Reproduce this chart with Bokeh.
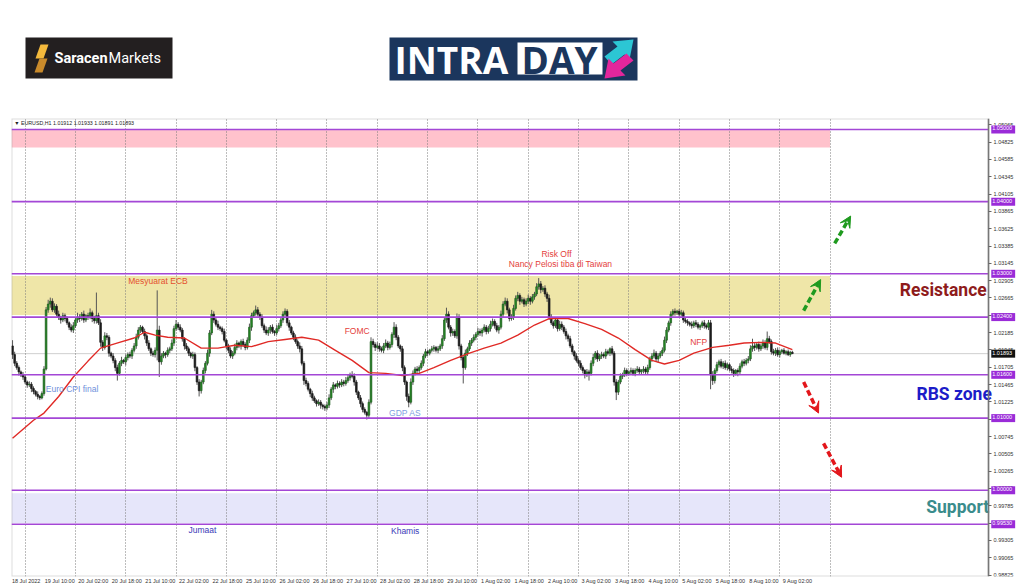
import numpy as np
from bokeh.plotting import figure
from bokeh.layouts import column
from bokeh.models import (Range1d, FixedTicker, Label, Arrow, VeeHead, BoxAnnotation,
                          ColumnDataSource, PrintfTickFormatter)
from bokeh.core.properties import value
from bokeh.embed import file_html
from bokeh.resources import INLINE

# ---------------- data (EURUSD H1, prices in pips above 1.0000) ----------------
first_bar_time = "18 Jul 2022 18:00"
first_open_pips = 200
close_pips = [
    188, 176, 170, 164, 160, 157, 150, 146, 147, 141,
    137, 133, 130, 128, 134, 168, 250, 258, 262, 250,
    255, 244, 240, 236, 242, 238, 232, 226, 222, 228,
    236, 240, 238, 244, 236, 242, 240, 246, 238, 235,
    242, 232, 205, 198, 214, 212, 190, 186, 180, 170,
    162, 176, 180, 178, 184, 188, 186, 194, 200, 212,
    222, 226, 220, 214, 204, 196, 190, 188, 194, 222,
    178, 186, 190, 188, 194, 196, 204, 224, 230, 226,
    222, 210, 200, 196, 190, 186, 188, 170, 150, 138,
    150, 166, 176, 190, 218, 244, 236, 230, 226, 224,
    220, 208, 200, 194, 186, 190, 198, 204, 200, 206,
    202, 198, 208, 226, 242, 246, 250, 244, 240, 228,
    222, 218, 222, 226, 220, 218, 224, 228, 236, 244,
    248, 232, 226, 218, 212, 206, 200, 196, 176, 152,
    148, 140, 134, 128, 124, 120, 122, 118, 116, 114,
    118, 128, 140, 146, 144, 148, 146, 150, 148, 152,
    156, 160, 158, 150, 136, 128, 120, 112, 108, 104,
    122, 206, 202, 198, 200, 196, 194, 200, 204, 198,
    202, 216, 226, 212, 200, 196, 170, 150, 130, 122,
    150, 162, 168, 166, 170, 176, 186, 192, 190, 194,
    196, 198, 194, 196, 200, 210, 236, 244, 226, 218,
    220, 214, 240, 200, 184, 170, 190, 196, 204, 208,
    212, 216, 220, 218, 222, 226, 220, 224, 230, 234,
    228, 222, 226, 244, 258, 262, 250, 238, 240, 252,
    266, 270, 262, 264, 258, 262, 266, 262, 268, 272,
    282, 286, 278, 280, 272, 266, 240, 232, 228, 236,
    224, 230, 226, 220, 214, 210, 200, 192, 186, 180,
    176, 170, 166, 160, 164, 162, 176, 184, 190, 182,
    186, 188, 186, 192, 190, 196, 190, 150, 136, 150,
    158, 160, 166, 162, 164, 166, 162, 166, 168, 164,
    166, 168, 164, 170, 182, 186, 190, 182, 186, 190,
    194, 208, 222, 232, 244, 248, 246, 248, 244, 246,
    236, 234, 232, 230, 228, 232, 230, 226, 228, 232,
    228, 226, 232, 160, 152, 166, 174, 178, 172, 176,
    170, 174, 168, 166, 162, 166, 164, 172, 178, 176,
    180, 182, 196, 200, 198, 202, 196, 200, 204, 198,
    210, 206, 192, 190, 194, 188, 192, 194, 190, 192,
    188, 191.2, 189.3,
]
upper_wick_pips = [
    8, 4, 3, 3, 2, 4, 3, 2, 4, 3,
    3, 2, 4, 2, 3, 4, 4, 6, 5, 4,
    4, 3, 5, 2, 4, 3, 3, 2, 4, 5,
    3, 6, 4, 3, 5, 2, 4, 6, 3, 4,
    32, 4, 5, 3, 5, 4, 3, 2, 4, 3,
    4, 3, 5, 2, 4, 3, 4, 3, 4, 5,
    4, 3, 2, 4, 3, 4, 2, 3, 4, 55,
    6, 4, 3, 2, 4, 3, 5, 4, 6, 3,
    4, 3, 2, 4, 3, 2, 4, 3, 2, 4,
    3, 4, 3, 5, 4, 6, 4, 3, 5, 2,
    3, 4, 2, 3, 4, 3, 5, 4, 2, 3,
    4, 3, 4, 5, 4, 3, 6, 4, 3, 4,
    3, 5, 4, 3, 4, 2, 5, 4, 3, 4,
    4, 3, 4, 2, 3, 4, 3, 5, 4, 3,
    4, 3, 2, 4, 3, 2, 4, 3, 2, 3,
    4, 5, 3, 4, 2, 4, 3, 4, 3, 5,
    4, 3, 5, 4, 3, 2, 4, 3, 3, 2,
    4, 6, 4, 3, 5, 4, 3, 4, 5, 3,
    4, 3, 7, 4, 3, 2, 4, 3, 2, 4,
    5, 4, 3, 4, 3, 4, 3, 4, 3, 2,
    4, 3, 2, 4, 3, 5, 4, 9, 4, 3,
    4, 3, 5, 4, 3, 4, 5, 3, 4, 3,
    4, 3, 5, 4, 3, 4, 3, 4, 5, 4,
    3, 4, 3, 5, 4, 5, 4, 3, 4, 5,
    4, 5, 3, 4, 3, 4, 5, 3, 4, 3,
    5, 8, 4, 3, 4, 3, 5, 4, 3, 4,
    3, 5, 4, 3, 4, 3, 4, 3, 2, 4,
    3, 4, 3, 2, 4, 3, 4, 5, 3, 4,
    3, 4, 3, 4, 3, 2, 4, 3, 4, 3,
    4, 3, 4, 3, 2, 4, 3, 3, 4, 3,
    2, 4, 3, 4, 3, 4, 5, 3, 4, 3,
    4, 5, 4, 3, 4, 3, 4, 2, 3, 4,
    3, 4, 3, 2, 4, 3, 4, 3, 2, 3,
    4, 3, 4, 4, 5, 3, 4, 3, 4, 3,
    4, 3, 2, 4, 3, 2, 3, 4, 3, 4,
    3, 4, 5, 10, 4, 3, 4, 3, 5, 4,
    10, 4, 3, 4, 3, 4, 3, 2, 3, 2,
    3, 2, 2.1,
]
lower_wick_pips = [
    6, 4, 3, 5, 3, 4, 3, 4, 3, 5,
    4, 3, 4, 3, 2, 3, 2, 4, 5, 3,
    4, 3, 4, 5, 3, 4, 3, 4, 3, 4,
    3, 4, 5, 3, 4, 3, 4, 3, 5, 4,
    4, 3, 6, 5, 3, 4, 5, 3, 4, 5,
    10, 3, 4, 3, 5, 4, 3, 4, 3, 4,
    3, 4, 3, 5, 4, 3, 4, 3, 4, 14,
    21, 4, 3, 5, 3, 4, 3, 4, 3, 4,
    3, 4, 5, 3, 4, 3, 4, 5, 4, 8,
    4, 3, 4, 3, 5, 3, 4, 3, 4, 3,
    4, 3, 5, 4, 3, 4, 3, 4, 3, 5,
    3, 4, 3, 4, 5, 3, 4, 3, 4, 3,
    4, 3, 4, 5, 3, 4, 3, 4, 3, 4,
    3, 4, 5, 3, 4, 3, 4, 5, 3, 6,
    4, 3, 5, 4, 3, 4, 3, 5, 4, 4,
    3, 4, 3, 5, 4, 3, 4, 3, 4, 3,
    3, 4, 3, 5, 4, 3, 5, 4, 3, 6,
    4, 3, 4, 5, 3, 4, 3, 4, 3, 4,
    3, 4, 5, 4, 3, 4, 5, 4, 6, 7,
    3, 4, 3, 4, 5, 3, 4, 3, 4, 3,
    3, 4, 3, 4, 3, 4, 3, 4, 3, 5,
    4, 3, 4, 5, 4, 22, 3, 4, 3, 4,
    3, 4, 3, 4, 5, 3, 4, 3, 4, 3,
    4, 3, 5, 3, 4, 3, 5, 4, 3, 4,
    3, 4, 5, 3, 4, 3, 4, 5, 3, 4,
    3, 4, 5, 3, 4, 5, 4, 3, 4, 3,
    4, 3, 4, 3, 5, 4, 3, 4, 5, 3,
    4, 3, 4, 5, 3, 10, 3, 4, 3, 4,
    3, 4, 3, 4, 3, 4, 3, 5, 11, 4,
    3, 4, 3, 4, 3, 4, 3, 4, 3, 4,
    3, 4, 3, 4, 3, 4, 3, 4, 5, 3,
    4, 3, 4, 3, 4, 3, 4, 3, 4, 3,
    4, 3, 4, 3, 4, 3, 4, 3, 4, 3,
    4, 3, 4, 20, 6, 4, 3, 4, 3, 4,
    3, 4, 3, 4, 5, 3, 6, 4, 3, 4,
    3, 4, 3, 4, 5, 3, 4, 3, 4, 3,
    4, 3, 4, 3, 4, 3, 4, 3, 2, 3,
    2, 3, 0.2,
]

# red moving average, read at sample bars
ma_bar = [0, 10, 15, 22, 29, 36, 42, 51, 58, 63, 68, 74, 82, 90, 98, 106, 114, 122, 130, 138,
          146, 154, 162, 170, 178, 186, 194, 201, 209, 218, 225, 233, 241, 249, 256, 265, 273, 281, 289, 297,
          305, 311, 318, 325, 334, 342, 349, 357, 364, 372]
ma_pips = [72, 97, 107, 130, 157, 179, 197, 205, 211, 219, 215, 212, 211, 197, 197, 201, 199, 206, 209, 212,
           208, 194, 180, 163, 162, 159, 162, 170, 180, 190, 197, 204, 215, 229, 238, 238, 231, 223, 211, 195,
           180, 175, 180, 190, 198, 201, 204, 205, 204, 195]

# time axis
xtick_bar = [0, 16, 32, 48, 64, 80, 96, 112, 128, 144, 160, 176, 192, 208, 224, 240,
             256, 272, 288, 304, 320, 336, 352, 368]
xtick_labels = ["18 Jul 2022", "19 Jul 10:00", "20 Jul 02:00", "20 Jul 18:00", "21 Jul 10:00",
                "22 Jul 02:00", "22 Jul 18:00", "25 Jul 10:00", "26 Jul 02:00", "26 Jul 18:00",
                "27 Jul 10:00", "28 Jul 02:00", "28 Jul 18:00", "29 Jul 10:00", "1 Aug 02:00",
                "1 Aug 18:00", "2 Aug 10:00", "3 Aug 02:00", "3 Aug 18:00", "4 Aug 10:00",
                "5 Aug 02:00", "5 Aug 18:00", "8 Aug 10:00", "9 Aug 02:00"]
day_start_bar = [6, 30, 54, 78, 102, 126, 150, 174, 198, 222, 246, 270, 294, 318, 342, 366, 390]
ytick_values = [1.05065, 1.04825, 1.04585, 1.04345, 1.04105, 1.03865, 1.03625, 1.03385, 1.03145,
                1.02905, 1.02665, 1.02425, 1.02185, 1.01945, 1.01705, 1.01465, 1.01225, 1.00985,
                1.00745, 1.00505, 1.00265, 1.00025, 0.99785, 0.99545, 0.99305, 0.99065, 0.98825]

# horizontal levels and zones
level_prices = [1.05, 1.04, 1.03, 1.024, 1.016, 1.01, 1.00, 0.9953]
level_texts = ["1.05000", "1.04000", "1.03000", "1.02400", "1.01600", "1.01000", "1.00000", "0.99530"]
zone_bottom = [1.0475, 1.0243, 0.99545]
zone_top = [1.0500, 1.0297, 0.99960]
zone_end_bar = 390
last_price = 1.01893
info_text = "\u25bc EURUSD,H1  1.01912 1.01933 1.01891 1.01893"

# event notes
note_text = ["Mesyuarat ECB", "Euro CPI final", "FOMC", "GDP AS", "Risk Off",
             "Nancy Pelosi tiba di Taiwan", "NFP", "Jumaat", "Khamis"]
note_bar = [69.4, 28.4, 164.4, 187.3, 259.5, 261.4, 327.3, 90.6, 187.3]
note_price = [1.02895, 1.0141, 1.0221, 1.0107, 1.0327, 1.0313, 1.0205, 0.9945, 0.9943]
note_color = ["#E4502E", "#6F8FDB", "#E4413B", "#7EA0E2", "#E4413B", "#E4413B", "#E4413B",
              "#3A3AB8", "#3A3AB8"]

zone_text = ["Resistance", "RBS zone", "Support"]
zone_text_bar = [444.0, 449.2, 450.9]
zone_text_price = [1.0278, 1.0134, 0.99765]
zone_text_color = ["#8E1B1B", "#1C1CC8", "#3A8C8C"]

# forecast arrows (bar, price)
arrow_x0 = [377.4, 392.2, 377.4, 386.9]
arrow_y0 = [1.0249, 1.0342, 1.0150, 1.0065]
arrow_x1 = [385.5, 399.8, 384.5, 395.5]
arrow_y1 = [1.0292, 1.0380, 1.0107, 1.0018]
arrow_color = ["#1F9A1F", "#1F9A1F", "#E3161B", "#E3161B"]

# ---------------- derived candle arrays ----------------
n = len(close_pips)
assert len(upper_wick_pips) == n and len(lower_wick_pips) == n
open_pips = [first_open_pips] + close_pips[:-1]
o = 1 + np.array(open_pips, dtype=float) / 1e4
c = 1 + np.array(close_pips, dtype=float) / 1e4
hi = np.maximum(o, c) + np.array(upper_wick_pips, dtype=float) / 1e4
lo = np.minimum(o, c) - np.array(lower_wick_pips, dtype=float) / 1e4
bars = np.arange(n)
bull = c >= o
body_color = np.where(bull, "#268C26", "#1C1C1C")
edge_color = np.where(bull, "#1F5F1F", "#1C1C1C")
candles = ColumnDataSource(dict(x=bars, o=o, c=c, hi=hi, lo=lo,
                                top=np.maximum(o, c), bot=np.minimum(o, c),
                                col=body_color, edge=edge_color))

# geometry of the chart frame
X_START, X_END = -0.5, 482.75      # frame spans the whole width; price scale sits inside
AXIS_X = 465.6                     # where the price scale is drawn
Y_START, Y_END = 0.98805, 1.05152

# ---------------- header with logos (data units = page pixels) ----------------
hdr = figure(width=1024, height=100, x_range=Range1d(11, 1024), y_range=Range1d(100, 0),
             output_backend="svg", toolbar_location=None, x_axis_location=None,
             y_axis_location=None, min_border_left=11, min_border_right=0,
             min_border_top=0, min_border_bottom=0)
hdr.grid.visible = False
hdr.outline_line_color = None

hdr.quad(left=25, right=172, top=37, bottom=78, fill_color="#231F20", line_color=None)
hdr.patches(xs=[[40, 48, 43, 35], [39, 47, 42, 34]],
            ys=[[44, 44, 58, 58], [58, 58, 72, 72]],
            fill_color=["#F4B93C", "#C98A2B"], line_color=None)
hdr.text(x=[54], y=[58], text=["Saracen"], text_color="white", text_font=value("Roboto"),
         text_font_style="bold", text_font_size="14.5px", text_baseline="middle")
hdr.text(x=[108], y=[58], text=["Markets"], text_color="white", text_font=value("Roboto"),
         text_font_size="14.5px", text_baseline="middle")

hdr.quad(left=389, right=637, top=37, bottom=80, fill_color="#1B365D", line_color=None)
hdr.quad(left=517, right=602, top=42, bottom=74, fill_color="white", line_color=None)
hdr.text(x=[394], y=[58.5], text=["INTRA"], text_color="white",
         text_font=value("Open Sans"), text_font_style="bold",
         text_font_size="37px", text_baseline="middle")
hdr.text(x=[521], y=[58.5], text=["DAY"], text_color="#1B365D",
         text_font=value("Open Sans"), text_font_style="bold",
         text_font_size="37px", text_baseline="middle")
hdr.patches(xs=[[604, 617, 612, 633, 629, 624, 611], [633, 620, 625, 604, 608, 613, 626]],
            ys=[[56, 46, 41, 39, 59, 54, 64], [60, 70, 75, 78, 58, 63, 53]],
            fill_color=["#2CC6D4", "#E3269C"], line_color=None)

# ---------------- main chart ----------------
p = figure(width=1024, height=487, x_range=Range1d(X_START, X_END), y_range=Range1d(Y_START, Y_END),
           output_backend="svg", toolbar_location=None, y_axis_location="right",
           min_border_left=11, min_border_right=0, min_border_top=18, min_border_bottom=11)
p.background_fill_color = "white"
p.border_fill_color = "white"
p.outline_line_color = None

# zones (under the grid)
p.quad(left=[X_START] * 3, right=[zone_end_bar] * 3, bottom=zone_bottom, top=zone_top,
       fill_color=["#FFC2CC", "#EFE6A8", "#E6E6FA"], line_color=None, level="image")

# chart border (left / top / bottom up to the price scale)
p.add_layout(BoxAnnotation(left=X_START, right=AXIS_X, bottom=Y_START, top=Y_END,
                           fill_alpha=0, line_color="#8A8A8A", line_width=2, level="underlay"))

# grid
p.ygrid.visible = False
p.xgrid.ticker = FixedTicker(ticks=day_start_bar)
p.xgrid.grid_line_color = "#7A7A7A"
p.xgrid.grid_line_dash = "1 2"
p.xgrid.grid_line_width = 1

# axes
p.xaxis.ticker = FixedTicker(ticks=[b + 6.5 for b in xtick_bar])
p.xaxis.major_label_overrides = {b + 6.5: t for b, t in zip(xtick_bar, xtick_labels)}
p.xaxis.major_label_text_font = "Liberation Sans"
p.xaxis.major_label_text_font_size = "5.5px"
p.xaxis.major_label_text_color = "#333333"
p.xaxis.major_label_standoff = 1
p.xaxis.major_tick_out = 0
p.xaxis.major_tick_in = 0
p.xaxis.minor_tick_line_color = None
p.xaxis.axis_line_color = None

p.yaxis.fixed_location = AXIS_X
p.yaxis.ticker = FixedTicker(ticks=ytick_values)
p.yaxis.formatter = PrintfTickFormatter(format="%.5f")
p.yaxis.major_label_text_font = "Liberation Sans"
p.yaxis.major_label_text_font_size = "5.5px"
p.yaxis.major_label_text_color = "#333333"
p.yaxis.major_label_standoff = 2
p.yaxis.major_tick_out = 3
p.yaxis.major_tick_in = 0
p.yaxis.major_tick_line_color = "#666666"
p.yaxis.minor_tick_line_color = None
p.yaxis.axis_line_color = "#777777"
p.yaxis.axis_line_width = 1.5

# bid line
p.segment(x0=[X_START], y0=[last_price], x1=[AXIS_X], y1=[last_price],
          line_color="#CFCFCF", line_width=1, level="underlay")

# candles
p.segment(x0="x", y0="lo", x1="x", y1="hi", source=candles, line_color="#555555", line_width=1)
p.vbar(x="x", width=0.8, top="top", bottom="bot", source=candles,
       fill_color="col", line_color="edge", line_width=0.7)

# moving average
p.line(ma_bar, [1 + v / 1e4 for v in ma_pips], line_color="#E02A26", line_width=1.4)

# levels
p.segment(x0=[X_START] * len(level_prices), y0=level_prices,
          x1=[AXIS_X] * len(level_prices), y1=level_prices,
          line_color="#A347D6", line_width=1.6)
for lv, txt in zip(level_prices, level_texts):
    p.add_layout(Label(x=AXIS_X + 1.3, y=lv, text=txt, text_font="Liberation Sans",
                       text_font_size="5.5px", text_color="white", text_baseline="middle",
                       text_align="left", background_fill_color="#9A2BD8", padding=(1, 3, 1, 3)))
p.add_layout(Label(x=AXIS_X + 1.3, y=last_price, text="%.5f" % last_price,
                   text_font="Liberation Sans", text_font_size="5.5px",
                   text_color="white", text_baseline="middle", text_align="left",
                   background_fill_color="#111111", padding=(1, 3, 1, 3)))

# info text
p.add_layout(Label(x=0.8, y=1.05085, text=info_text, text_font="Liberation Sans",
                   text_font_size="5.3px", text_color="#222222", text_baseline="middle",
                   text_align="left"))

# notes
notes = ColumnDataSource(dict(x=note_bar, y=note_price, t=note_text, col=note_color))
p.text(x="x", y="y", text="t", text_color="col", source=notes,
       text_font=value("Liberation Sans"), text_font_size="8.5px",
       text_align="center", text_baseline="middle")

ztext = ColumnDataSource(dict(x=zone_text_bar, y=zone_text_price, t=zone_text, col=zone_text_color))
p.text(x="x", y="y", text="t", text_color="col", source=ztext,
       text_font=value("Roboto"), text_font_style="bold", text_font_size="17.5px",
       text_align="center", text_baseline="middle")

# arrows
for x0, y0, x1, y1, col in zip(arrow_x0, arrow_y0, arrow_x1, arrow_y1, arrow_color):
    p.add_layout(Arrow(x_start=x0, y_start=y0, x_end=x1, y_end=y1,
                       line_color=col, line_width=3.5, line_dash="6 3",
                       end=VeeHead(size=11, fill_color=col, line_color=col, line_width=1)))

layout = column(hdr, p, spacing=0)
open("out.html", "w").write(file_html(layout, INLINE))
